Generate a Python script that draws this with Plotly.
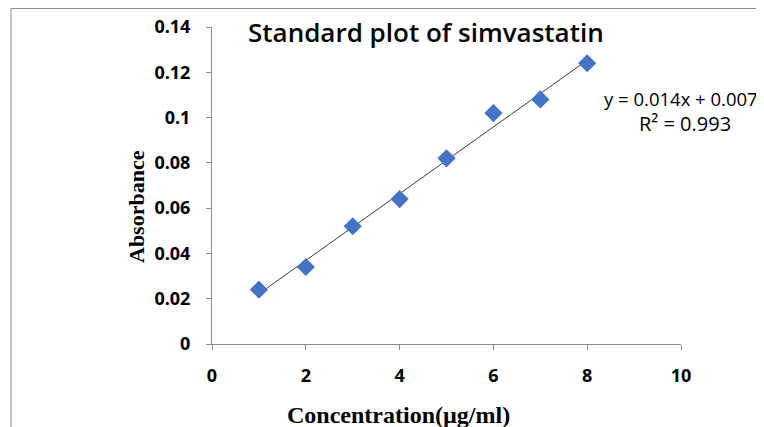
import numpy as np
import plotly.graph_objects as go

conc = [1, 2, 3, 4, 5, 6, 7, 8]
absorbance = [0.024, 0.034, 0.052, 0.064, 0.082, 0.102, 0.108, 0.124]
x_ticks = [0, 2, 4, 6, 8, 10]
y_ticks = [0, 0.02, 0.04, 0.06, 0.08, 0.1, 0.12, 0.14]
y_tick_text = ["0", "0.02", "0.04", "0.06", "0.08", "0.1", "0.12", "0.14"]
title_text = "Standard plot of simvastatin"
x_title = "Concentration(µg/ml)"
y_title = "Absorbance"
equation_text = "y = 0.014x + 0.007"
r2_text = "R² = 0.993"

slope, intercept = np.polyfit(conc, absorbance, 1)
fit_x = [conc[0], conc[-1]]
fit_y = [slope * v + intercept for v in fit_x]

W, H = 764, 427
OFF = 7  # page body offset
L, T = 211 - OFF, 26 - OFF
pw, ph = 469, 317
R, B = W - L - pw, H - T - ph

def px_to_paper_x(p):
    return (p - OFF - L) / pw

def px_to_paper_y(p):
    return (T + ph - (p - OFF)) / ph

sans = "'Open Sans', Lato, sans-serif"
serif = "'Liberation Serif', 'Times New Roman', serif"

fig = go.Figure()
fig.add_trace(go.Scatter(x=fit_x, y=fit_y, mode="lines",
                         line=dict(color="#3a3a3a", width=1), showlegend=False,
                         hoverinfo="skip"))
fig.add_trace(go.Scatter(x=conc, y=absorbance, mode="markers",
                         marker=dict(symbol="diamond", size=14, color="#4472C4",
                                     line=dict(width=0)),
                         showlegend=False))

fig.update_layout(
    width=W, height=H,
    margin=dict(l=L, r=R, t=T, b=B, autoexpand=False),
    paper_bgcolor="white", plot_bgcolor="white",
    xaxis=dict(range=[0, 10], tickvals=x_ticks, showgrid=False, zeroline=False,
               showline=True, linecolor="#8c8c8c", linewidth=1,
               ticks="outside", ticklen=5, tickcolor="#8c8c8c", automargin=False,
               tickfont=dict(family=sans, size=18, color="#000", weight="bold"),
               ticklabelstandoff=10),
    yaxis=dict(range=[0, 0.14], tickvals=y_ticks, ticktext=y_tick_text,
               showgrid=False, zeroline=False,
               showline=True, linecolor="#8c8c8c", linewidth=1,
               ticks="outside", ticklen=5, tickcolor="#8c8c8c", automargin=False,
               tickfont=dict(family=sans, size=18, color="#000", weight="bold"),
               ticklabelstandoff=12),
    font=dict(family=sans, color="#000"),
)

fig.add_annotation(text=title_text, xref="paper", yref="paper",
                   x=px_to_paper_x(425), y=px_to_paper_y(31), xanchor="center", yanchor="middle",
                   showarrow=False,
                   font=dict(family=sans, size=26, color="#000", weight=600))
fig.add_annotation(text=x_title, xref="paper", yref="paper",
                   x=px_to_paper_x(397), y=px_to_paper_y(414), xanchor="center", yanchor="middle",
                   showarrow=False,
                   font=dict(family=serif, size=24, color="#000", weight="bold"))
fig.add_annotation(text=y_title, xref="paper", yref="paper", textangle=-90,
                   x=px_to_paper_x(135), y=px_to_paper_y(206), xanchor="center", yanchor="middle",
                   showarrow=False,
                   font=dict(family=serif, size=22, color="#000", weight="bold"))
fig.add_annotation(text=equation_text, xref="paper", yref="paper",
                   x=px_to_paper_x(601), y=px_to_paper_y(97), xanchor="left", yanchor="middle",
                   showarrow=False,
                   font=dict(family=sans, size=18.5, color="#000"))
fig.add_annotation(text=r2_text, xref="paper", yref="paper",
                   x=px_to_paper_x(684), y=px_to_paper_y(122), xanchor="center", yanchor="middle",
                   showarrow=False,
                   font=dict(family=sans, size=20, color="#000"))

# chart frame (partly cropped in reference)
fig.add_shape(type="line", xref="paper", yref="paper",
              x0=px_to_paper_x(10), x1=px_to_paper_x(780),
              y0=px_to_paper_y(OFF + 0.5), y1=px_to_paper_y(OFF + 0.5),
              line=dict(color="#8c8c8c", width=1))
fig.add_shape(type="line", xref="paper", yref="paper",
              x0=px_to_paper_x(10), x1=px_to_paper_x(10),
              y0=px_to_paper_y(OFF + 0.5), y1=px_to_paper_y(450),
              line=dict(color="#8c8c8c", width=1))

fig.write_html("out.html")
